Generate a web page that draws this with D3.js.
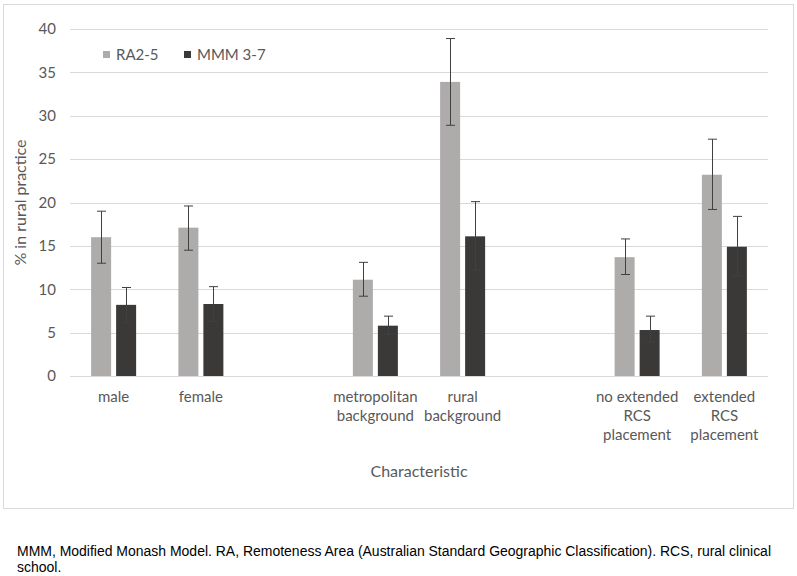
<!DOCTYPE html>
<html>
<head>
<meta charset="utf-8">
<script src="https://cdn.jsdelivr.net/npm/d3@7"></script>
<style>
  body { margin: 0; background: #fff; }
  svg text { font-family: Lato, "Open Sans", sans-serif; }
  svg text.note { font-family: "Liberation Sans", Arial, sans-serif; }
</style>
</head>
<body>
<div id="chart"></div>
<script>
// categories (empty slots keep the gaps between groups)
const categories = ['male', 'female', 'gap1', 'metropolitan background', 'rural background', 'gap2', 'no extended RCS placement', 'extended RCS placement'];
const categoryLines = [['male'], ['female'], [], ['metropolitan', 'background'], ['rural', 'background'], [], ['no extended', 'RCS', 'placement'], ['extended', 'RCS', 'placement']];
const seriesNames = ['RA2-5', 'MMM 3-7'];

// values
const raValues = [16.0, 17.1, null, 11.1, 33.9, null, 13.7, 23.2];
const raLow = [13.0, 14.5, null, 9.2, 28.9, null, 11.7, 19.2];
const raHigh = [19.0, 19.6, null, 13.1, 38.9, null, 15.8, 27.3];
const mmmValues = [8.2, 8.3, null, 5.8, 16.1, null, 5.3, 14.9];
const mmmLow = [6.1, 6.3, null, 4.8, 12.2, null, 3.9, 11.5];
const mmmHigh = [10.2, 10.3, null, 6.9, 20.1, null, 6.9, 18.4];
const yTicks = [0, 5, 10, 15, 20, 25, 30, 35, 40];

const colors = { 'RA2-5': '#aeabab', 'MMM 3-7': '#3b3838' };

const rows = [];
categories.forEach((c, i) => {
  if (raValues[i] == null) return;
  rows.push({ cat: c, series: 'RA2-5', value: raValues[i], low: raLow[i], high: raHigh[i] });
  rows.push({ cat: c, series: 'MMM 3-7', value: mmmValues[i], low: mmmLow[i], high: mmmHigh[i] });
});

const width = 797, height = 576;
const plot = { left: 70, right: 768, top: 29, bottom: 376 };

const svg = d3.select('#chart').append('svg')
  .attr('width', width)
  .attr('height', height);

// chart frame
svg.append('rect')
  .attr('x', 3.5).attr('y', 4.5)
  .attr('width', 790).attr('height', 504)
  .attr('fill', '#fff')
  .attr('stroke', '#d9d9d9');

const x0 = d3.scaleBand().domain(categories).range([plot.left, plot.right]);
const x1 = d3.scaleBand().domain(seriesNames).range([-22.5, 22.5]).paddingInner(0.2);
const y = d3.scaleLinear().domain([0, 40]).range([plot.bottom, plot.top]);

// gridlines
svg.append('g')
  .selectAll('line')
  .data(yTicks)
  .enter().append('line')
  .attr('x1', plot.left).attr('x2', plot.right)
  .attr('y1', d => Math.round(y(d)) + 0.5)
  .attr('y2', d => Math.round(y(d)) + 0.5)
  .attr('stroke', '#d9d9d9');

// y tick labels
svg.append('g')
  .selectAll('text')
  .data(yTicks)
  .enter().append('text')
  .attr('x', 56)
  .attr('y', d => y(d))
  .attr('dy', '0.35em')
  .attr('text-anchor', 'end')
  .attr('font-size', 15)
  .attr('fill', '#595959')
  .text(d => d);

const center = c => x0(c) + x0.bandwidth() / 2;

// bars
svg.append('g')
  .selectAll('rect')
  .data(rows)
  .enter().append('rect')
  .attr('x', d => center(d.cat) + x1(d.series))
  .attr('y', d => y(d.value))
  .attr('width', x1.bandwidth())
  .attr('height', d => y(0) - y(d.value))
  .attr('fill', d => colors[d.series]);

// error bars
const err = svg.append('g')
  .selectAll('g')
  .data(rows)
  .enter().append('g')
  .attr('stroke', '#404040')
  .attr('stroke-width', 1);

const ex = d => Math.round(center(d.cat) + x1(d.series) + x1.bandwidth() / 2) + 0.5;
err.append('line')
  .attr('x1', ex).attr('x2', ex)
  .attr('y1', d => y(d.low)).attr('y2', d => y(d.high));
err.append('line')
  .attr('x1', d => ex(d) - 4.5).attr('x2', d => ex(d) + 4.5)
  .attr('y1', d => y(d.high)).attr('y2', d => y(d.high));
err.append('line')
  .attr('x1', d => ex(d) - 4.5).attr('x2', d => ex(d) + 4.5)
  .attr('y1', d => y(d.low)).attr('y2', d => y(d.low));

// category labels
const catLabels = svg.append('g')
  .selectAll('text')
  .data(categories)
  .enter().append('text')
  .attr('text-anchor', 'middle')
  .attr('font-size', 15)
  .attr('fill', '#595959');

catLabels.selectAll('tspan')
  .data((d, i) => categoryLines[i].map(t => ({ t, c: d })))
  .enter().append('tspan')
  .attr('x', d => center(d.c))
  .attr('y', (d, i) => 402 + i * 19)
  .text(d => d.t);

// axis titles
svg.append('text')
  .attr('x', (plot.left + plot.right) / 2)
  .attr('y', 477)
  .attr('text-anchor', 'middle')
  .attr('font-size', 16)
  .attr('fill', '#595959')
  .text('Characteristic');

svg.append('text')
  .attr('transform', `translate(26, ${(plot.top + plot.bottom) / 2}) rotate(-90)`)
  .attr('text-anchor', 'middle')
  .attr('font-size', 16)
  .attr('fill', '#595959')
  .text('% in rural practice');

// legend
const legendX = [103, 184];
const legend = svg.append('g')
  .selectAll('g')
  .data(seriesNames)
  .enter().append('g')
  .attr('transform', (d, i) => `translate(${legendX[i]}, 51)`);
legend.append('rect')
  .attr('width', 7).attr('height', 7)
  .attr('fill', d => colors[d]);
legend.append('text')
  .attr('x', 13).attr('y', 3.5)
  .attr('dy', '0.35em')
  .attr('font-size', 15)
  .attr('fill', '#595959')
  .text(d => d);

// footnote
const note = svg.append('text')
  .attr('class', 'note')
  .attr('font-size', 14)
  .attr('fill', '#000');
note.append('tspan').attr('x', 17).attr('y', 556)
  .attr('textLength', 754).attr('lengthAdjust', 'spacingAndGlyphs')
  .text('MMM, Modified Monash Model. RA, Remoteness Area (Australian Standard Geographic Classification). RCS, rural clinical');
note.append('tspan').attr('x', 17).attr('y', 572)
  .text('school.');
</script>
</body>
</html>
